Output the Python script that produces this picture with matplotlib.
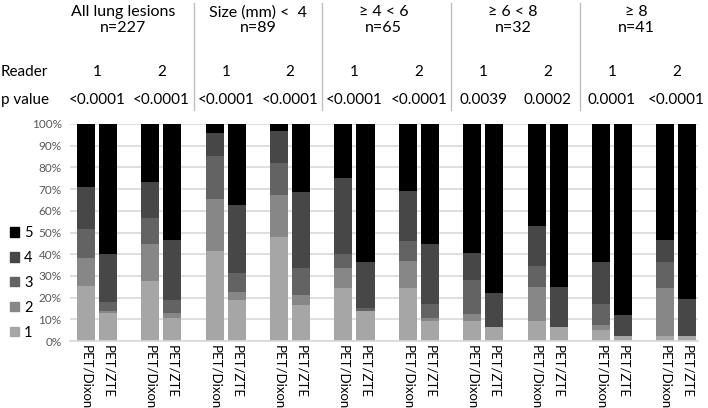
import matplotlib
matplotlib.use("Agg")
import matplotlib.pyplot as plt
from matplotlib.patches import Patch

plt.rcParams["font.family"] = ["Lato", "DejaVu Sans"]

# score shares (%) per bar: order = group x reader x method (Dixon, ZTE)
score1 = [25.5, 12.7, 27.6, 10.4, 41.5, 18.9, 48.1, 16.6, 24.6, 13.8,
          24.6, 9.2, 9.4, 6.3, 9.4, 6.3, 4.9, 2.4, 2.4, 2.4]
score2 = [12.6, 1.1, 17.1, 2.3, 23.8, 3.7, 19.3, 4.6, 9.2, 0.0,
          12.3, 1.2, 3.1, 0.0, 15.6, 0.0, 2.4, 0.0, 22.0, 0.0]
score3 = [13.7, 4.3, 12.0, 6.3, 20.1, 8.9, 14.6, 12.6, 6.2, 1.3,
          9.2, 6.5, 15.6, 0.0, 9.4, 0.0, 9.8, 0.0, 12.2, 0.0]
score4 = [19.3, 22.0, 16.7, 27.5, 10.3, 31.3, 14.7, 34.7, 35.1, 21.5,
          23.0, 27.6, 12.5, 15.6, 18.8, 18.7, 19.5, 9.8, 9.8, 17.1]
score5 = [28.9, 59.9, 26.6, 53.5, 4.3, 37.2, 3.3, 31.5, 24.9, 63.4,
          30.9, 55.5, 59.4, 78.1, 46.8, 75.0, 63.4, 87.8, 53.6, 80.5]

methods = ["PET/Dixon", "PET/ZTE"]
groups = ["All lung lesions", "Size (mm) <  4", "\u2265 4 < 6", "\u2265 6 < 8", "\u2265 8"]
group_n = ["n=227", "n=89", "n=65", "n=32", "n=41"]
readers = ["1", "2"]
p_values = ["<0.0001", "<0.0001", "<0.0001", "<0.0001", "<0.0001",
            "<0.0001", "0.0039", "0.0002", "0.0001", "<0.0001"]
score_labels = ["1", "2", "3", "4", "5"]
colors = ["#a6a6a6", "#878787", "#636363", "#474747", "#000000"]

# small horizontal nudges of the group titles (in pair units)
title_shift = [-0.1, 0.0, -0.05, -0.04, -0.12]

W, H = 708, 408
fig = plt.figure(figsize=(W / 100, H / 100), dpi=100)
ax = fig.add_axes([70 / W, 1 - 341 / H, 628 / W, 217 / H])

n_pairs = len(groups) * len(readers)
xs = []
for k in range(n_pairs):
    xs += [k - 0.171, k + 0.171]

bottom = [0.0] * len(xs)
for vals, col, lab in zip([score1, score2, score3, score4, score5], colors, score_labels):
    ax.bar(xs, vals, width=0.28, bottom=bottom, color=col, label=lab, zorder=2)
    bottom = [b + v for b, v in zip(bottom, vals)]

ax.set_xlim(-0.42, 9.337)
ax.set_ylim(0, 100)
ax.set_yticks(range(0, 101, 10))
ax.set_yticklabels([f"{v}%" for v in range(0, 101, 10)], fontsize=8.5, color="#595959")
ax.yaxis.grid(True, color="#d9d9d9", lw=1.2, zorder=0)
ax.tick_params(axis="y", length=0, pad=6)
ax.set_xticks(xs)
ax.set_xticklabels(methods * n_pairs, rotation=-90, fontsize=9.5, va="top", ha="center")
ax.tick_params(axis="x", length=0, pad=3)
for s in ["top", "right", "left"]:
    ax.spines[s].set_visible(False)
ax.spines["bottom"].set_color("#d9d9d9")
ax.spines["bottom"].set_linewidth(1.2)


def fy(px):
    return 1 - px / H


def fx(x):
    return ax.transData.transform((x, 0))[0] / W


# header rows
for g, (name, n) in enumerate(zip(groups, group_n)):
    fig.text(fx(2 * g + 0.5 + title_shift[g]), fy(20), f"{name}\n{n}",
             ha="center", va="center", fontsize=11.5, linespacing=1.1)
    if g > 0:
        sx = fx(2 * g - 0.5)
        fig.add_artist(plt.Line2D([sx, sx], [fy(3), fy(110)], color="#bfbfbf", lw=1))

fig.text(1 / W, fy(72), "Reader", ha="left", va="center", fontsize=11)
fig.text(1 / W, fy(100), "p value", ha="left", va="center", fontsize=11)
for k in range(n_pairs):
    fig.text(fx(k), fy(72), readers[k % 2], ha="center", va="center", fontsize=11)
    fig.text(fx(k), fy(100), p_values[k], ha="center", va="center", fontsize=11)

handles = [Patch(color=c, label=l) for c, l in zip(colors, score_labels)][::-1]
fig.legend(handles=handles, loc="center left", bbox_to_anchor=(3 / W, fy(283)),
           frameon=False, fontsize=10.5, handlelength=0.6, handleheight=0.6,
           handletextpad=0.35, labelspacing=0.75, borderpad=0)

fig.savefig("out.png", dpi=100)
